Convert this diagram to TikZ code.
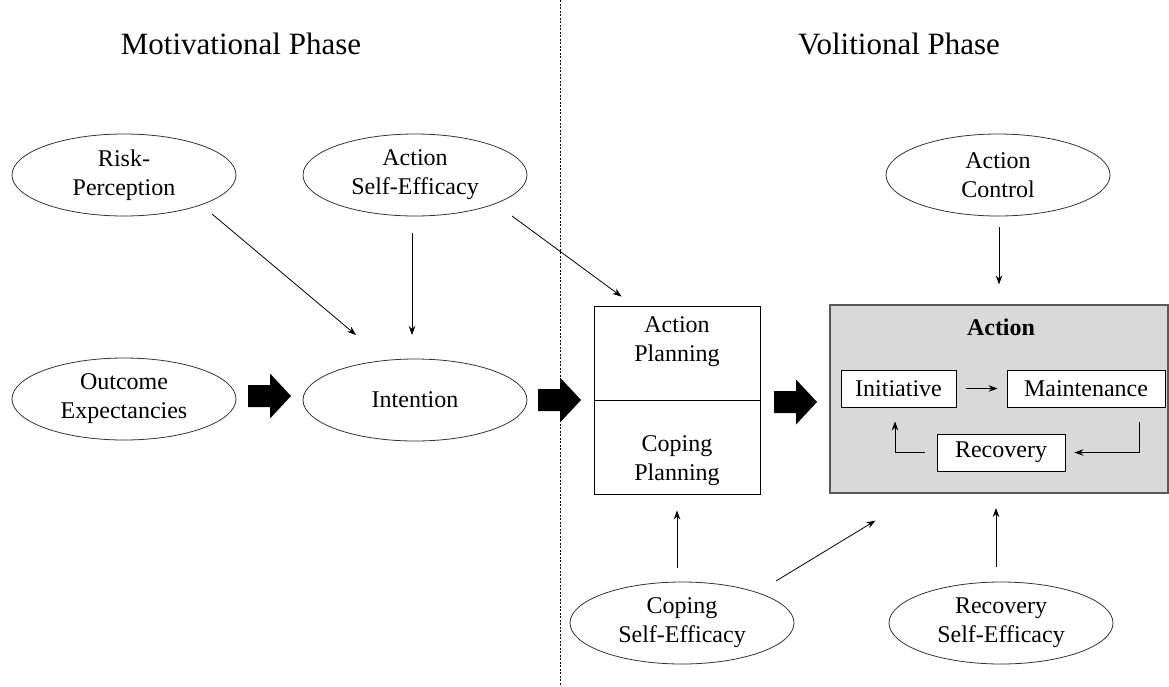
\documentclass[tikz,border=0pt]{standalone}
\usepackage{fontspec}
\setmainfont{Liberation Serif}
\usetikzlibrary{shapes.geometric,arrows.meta,calc}
\begin{document}
\begin{tikzpicture}[x=1pt,y=-1pt,
  lbl/.style={font=\fontsize{24}{29}\selectfont, align=center},
  oval/.style={ellipse, draw=black!80, line width=0.8pt, minimum width=224pt, minimum height=82pt, inner sep=0pt, lbl},
  ttl/.style={font=\fontsize{31}{36}\selectfont},
  arr/.style={-{Stealth[length=9pt,width=6.5pt]}, line width=0.8pt},
  blk/.style={fill=black},
  sub/.style={draw=black, fill=white, line width=0.9pt, inner sep=0pt, lbl}
]
\useasboundingbox (0,0) rectangle (1169,686);
% phase titles and divider
\node[ttl] (mot) at (241,44) {Motivational Phase};
\node[ttl] (vol) at (899,44) {Volitional Phase};
\coordinate (dtop) at (560,0);
\coordinate (dbot) at (560,686);
\draw[line width=0.7pt, dash pattern=on 2pt off 1.5pt] (dtop) -- (dbot);

% motivational ellipses
\node[oval] (risk) at (124,175) {Risk-\\Perception};
\node[oval] (ase) at (415,175) {Action\\Self-Efficacy};
\node[oval] (outcome) at (124,399) {Outcome\\Expectancies};
\node[oval] (intention) at (415,400) {Intention};

% volitional ellipses
\node[oval] (actrl) at (998,175) {Action\\Control};
\node[oval] (cse) at (682,623) {Coping\\Self-Efficacy};
\node[oval] (rse) at (1001,623) {Recovery\\Self-Efficacy};

% planning box
\node[draw=black, line width=0.9pt, minimum width=166pt, minimum height=188pt, inner sep=0pt] (planbox) at (677,400) {};
\draw[line width=0.9pt] (planbox.west) -- (planbox.east);
\node[lbl] (apl) at (677,342) {Action\\Planning};
\node[lbl] (cpl) at (677,460.5) {Coping\\Planning};

% action box
\node[draw=black!65, fill=black!15, line width=1.2pt, minimum width=338pt, minimum height=188pt, inner sep=0pt] (action) at (999,399) {};
\node[lbl, font=\fontsize{24}{29}\selectfont\bfseries] (acttitle) at (1001,327) {Action};
\node[sub, minimum width=115pt, minimum height=37pt] (init) at (898.5,388.5) {Initiative};
\node[sub, minimum width=158pt, minimum height=37pt] (maint) at (1086,388.5) {Maintenance};
\node[sub, minimum width=128pt, minimum height=37pt] (recov) at (1001,452.5) {Recovery};

% block arrows
\foreach \n/\px/\py in {b1/248/396, b2/538/400, b3/774/402}{
  \coordinate (\n) at (\px,\py);
  \fill[blk, shift={(\n)}] (0,-11) -- (22,-11) -- (22,-22.5) -- (43,0) -- (22,22.5) -- (22,11) -- (0,11) -- cycle;
}

% thin arrows
\draw[arr] ($(risk.center)+(88,39)$) -- ($(intention.center)+(-59,-65)$);
\draw[arr] ($(ase.center)+(-3,58)$) -- ($(intention.center)+(-3,-65)$);
\draw[arr] ($(ase.center)+(97,41)$) -- ($(planbox.north west)+(28,-9)$);
\draw[arr] ($(actrl.center)+(1,52)$) -- ($(action.north)+(0,-20)$);
\draw[arr] ($(cse.center)+(-5,-55)$) -- ($(planbox.south)+(0,16)$);
\draw[arr] ($(cse.center)+(94,-42)$) -- ($(action.south west)+(46,27)$);
\draw[arr] ($(rse.center)+(-5,-56)$) -- ($(rse.center)+(-5,-115)$);

% inner loop arrows
\draw[arr] ($(init.east)+(10,0)$) -- ($(maint.west)+(-9,0)$);
\draw[arr] ($(maint.south)+(53,15)$) |- ($(recov.east)+(9,0)$);
\draw[arr] ($(recov.west)+(-12,0)$) -| ($(init.south)+(-3.5,14)$);
\end{tikzpicture}
\end{document}
